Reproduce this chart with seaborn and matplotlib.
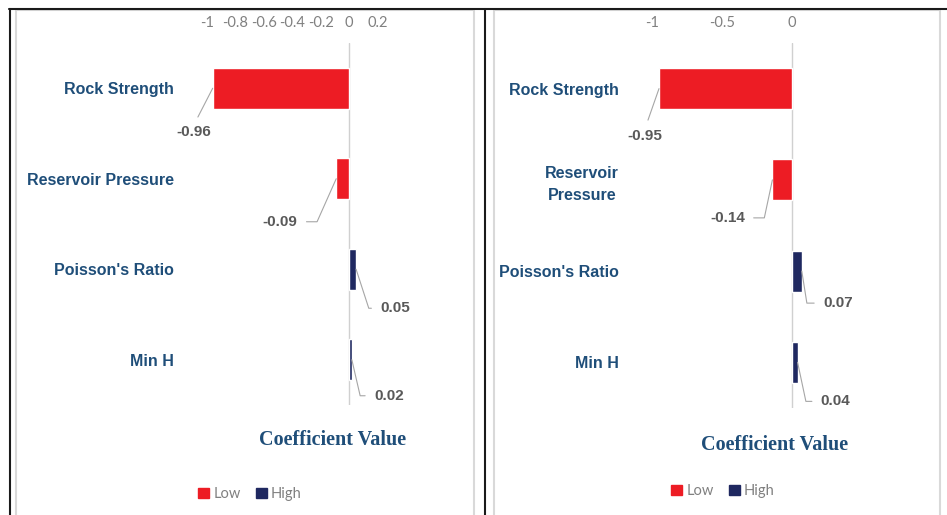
import numpy as np
import pandas as pd
import seaborn as sns
import matplotlib.pyplot as plt
from matplotlib.patches import Patch, Rectangle
from matplotlib.lines import Line2D

# data
categories = ["Rock Strength", "Reservoir Pressure", "Poisson's Ratio", "Min H"]
right_labels = ["Rock Strength", "Reservoir\nPressure", "Poisson's Ratio", "Min H"]
series = ["Low", "Low", "High", "High"]
left_values = [-0.96, -0.09, 0.05, 0.02]
right_values = [-0.95, -0.14, 0.07, 0.04]
left_ticks = [-1, -0.8, -0.6, -0.4, -0.2, 0, 0.2]
left_ticklabels = ["-1", "-0.8", "-0.6", "-0.4", "-0.2", "0", "0.2"]
right_ticks = [-1, -0.5, 0]
right_ticklabels = ["-1", "-0.5", "0"]

RED = "#ED1C24"
NAVY = "#1F2860"
BLUE_TXT = "#1F4E79"
W, H = 947, 515

sns.set_theme(style="white")
plt.rcParams['font.family'] = ['Liberation Sans', 'DejaVu Sans']

fig = plt.figure(figsize=(W / 100, H / 100), dpi=100)


def fx(px):
    return px / W


def fy(py):
    return 1 - py / H


def draw_panel(rect, values, labels, xlim, ticks, ticklabels, label_pos, title_xy, legend_xy):
    x0, y0, x1, y1 = rect
    ax = fig.add_axes([fx(x0), fy(y1), fx(x1) - fx(x0), fy(y0) - fy(y1)])
    df = pd.DataFrame({"cat": categories, "val": values, "series": series})
    sns.barplot(data=df, x="val", y="cat", hue="series", palette={"Low": RED, "High": NAVY},
                dodge=False, width=0.45, legend=False, ax=ax, saturation=1)
    ax.set_xlim(*xlim)
    ax.set_ylim(len(categories) - 0.5, -0.5)
    ax.axvline(0, color="#d0d0d0", lw=1, zorder=0)
    for s in ax.spines.values():
        s.set_visible(False)
    ax.xaxis.tick_top()
    ax.set_xticks(ticks)
    ax.set_xticklabels(ticklabels, family="Lato", fontsize=10.5, color="#808080")
    ax.tick_params(axis="x", length=0, pad=9.5)
    ax.set_yticks(range(len(labels)))
    ax.set_yticklabels(labels, fontsize=11.5, fontweight="bold", color=BLUE_TXT,
                       ha="right", multialignment="center", linespacing=1.55)
    ax.tick_params(axis="y", length=0, pad=24)
    ax.set_xlabel("")
    ax.set_ylabel("")
    ax.grid(False)

    # data labels with leader lines
    for i, v in enumerate(values):
        dx, dy, conn, rel = label_pos[i]
        ax.annotate(f"{v:.2f}", xy=(v, i), xytext=(dx, -dy), textcoords="offset pixels",
                    ha="center", va="center", fontsize=11, fontweight="bold", color="#595959",
                    arrowprops=dict(arrowstyle="-", color="#a6a6a6", lw=0.8, shrinkA=4,
                                    shrinkB=0, relpos=rel, connectionstyle=conn))

    fig.text(fx(title_xy[0]), fy(title_xy[1]), "Coefficient Value", family="Liberation Serif",
             fontweight="bold", fontsize=14.5, color=BLUE_TXT, ha="center", va="center")
    handles = [Patch(color=RED, label="Low"), Patch(color=NAVY, label="High")]
    leg = fig.legend(handles=handles, loc="center", bbox_to_anchor=(fx(legend_xy[0]), fy(legend_xy[1])),
                     ncol=2, frameon=False, handlelength=0.75, handleheight=0.75, handletextpad=0.3,
                     columnspacing=1.0, prop={"family": "Lato", "size": 10.5})
    for t in leg.get_texts():
        t.set_color("#808080")
    return ax


left_pos = [
    (-19, 44, "arc3", (0.5, 1)),
    (-56, 43, "angle,angleA=0,angleB=66,rad=0", (1, 0.5)),
    (39, 39, "angle,angleA=0,angleB=-72,rad=0", (0, 0.5)),
    (37, 36, "angle,angleA=0,angleB=-77,rad=0", (0, 0.5)),
]
right_pos = [
    (-14, 47, "arc3", (0.5, 1)),
    (-45, 38, "angle,angleA=0,angleB=78,rad=0", (1, 0.5)),
    (36, 32, "angle,angleA=0,angleB=-81,rad=0", (0, 0.5)),
    (38, 39, "angle,angleA=0,angleB=-78,rad=0", (0, 0.5)),
]

draw_panel((207, 43, 377.4, 405), left_values, categories, (-1, 0.2), left_ticks, left_ticklabels,
           left_pos, (333, 440), (250, 494))
draw_panel((652, 43, 806, 408), right_values, right_labels, (-1, 0.1), right_ticks, right_ticklabels,
           right_pos, (775, 445), (723, 491))

# panel borders and frame
for x0, x1 in [(16, 474), (494, 940)]:
    fig.add_artist(Rectangle((fx(x0), -0.05), fx(x1) - fx(x0), fy(10) + 0.05, transform=fig.transFigure,
                             fill=False, edgecolor="#d9d9d9", lw=1.5))
fig.add_artist(Line2D([fx(9), 1], [fy(9), fy(9)], transform=fig.transFigure, color="#1a1a1a", lw=1.5))
fig.add_artist(Line2D([fx(9.5), fx(9.5)], [0, fy(9)], transform=fig.transFigure, color="#1a1a1a", lw=1.5))
fig.add_artist(Line2D([fx(485), fx(485)], [0, fy(9)], transform=fig.transFigure, color="#1a1a1a", lw=1.5))

fig.savefig("out.png", dpi=100)
